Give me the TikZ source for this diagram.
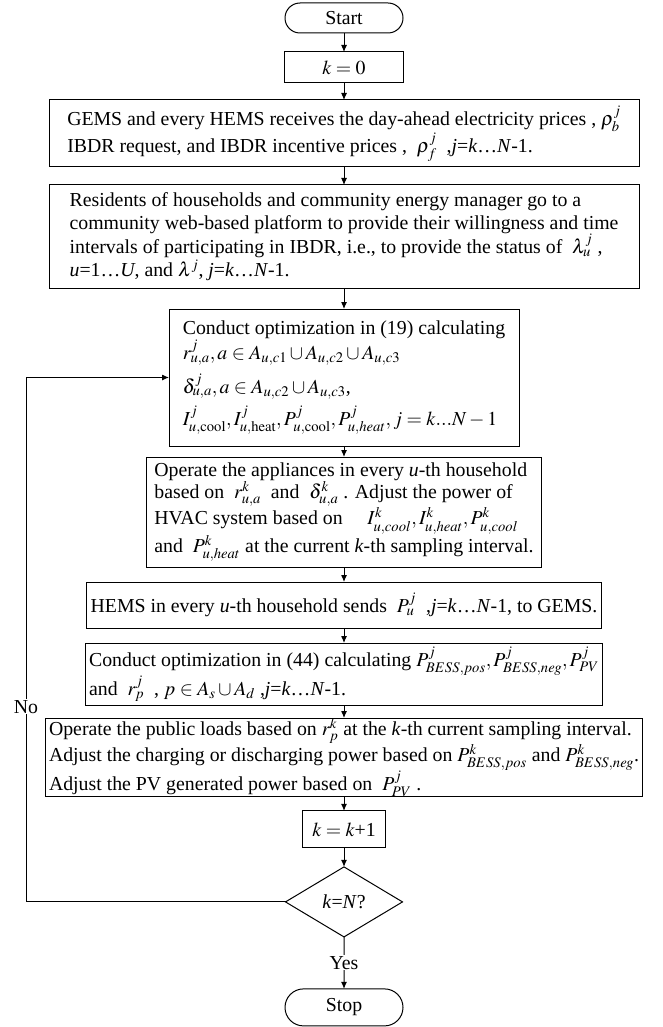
\documentclass[tikz,border=0pt]{standalone}
\usepackage{mathptmx}
\usepackage[no-math]{fontspec}
\setmainfont{Liberation Serif}
\usetikzlibrary{positioning,shapes.geometric,shapes.misc,arrows.meta}
\tikzset{box node/.style={rectangle,draw,line width=1pt,inner xsep=4pt,inner ysep=0pt,outer sep=0pt,align=left},
         end node/.style={rounded rectangle,draw,line width=1pt,minimum width=118pt,inner sep=0pt,outer sep=0pt},
         test node/.style={diamond,draw,line width=1pt,minimum width=117pt,minimum height=70pt,inner sep=0pt,outer sep=0pt},
         flow/.style={line width=1pt,-{Latex[length=7pt,width=6pt]}},
            }

\begin{document}
\begin{tikzpicture}[x=1pt,y=1pt,font=\fontsize{19.8}{22.5}\selectfont]
    \useasboundingbox (0,0) rectangle (663,-1027);
    \node[end node,minimum height=30pt] (1) at (344,-18) {Start};
    \node[box node,minimum width=119pt,minimum height=31pt] (2) [below=19pt of 1] {$k=0$};
    \node[box node,minimum width=590pt,minimum height=67pt] (3) [below=17pt of 2]
        {GEMS and every HEMS receives the day-ahead electricity prices , $\rho^j_b$\\
         IBDR request, and IBDR incentive prices , ~$\rho^j_f$ ~,\textit{j}=\textit{k}\ldots\textit{N}-1.};
    \node[box node,minimum width=590pt,minimum height=103pt] (4) [below=18pt of 3]
        {Residents of households and community energy manager go to a\\
         community web-based platform to provide their willingness and time\\
         intervals of participating in IBDR, i.e., to provide the status of ~$\lambda^j_u$ ,\\
         \textit{u}=1\ldots\textit{U}, and $\lambda^j$, \textit{j}=\textit{k}\ldots\textit{N}-1.};
    \node[box node,minimum width=350pt,minimum height=137pt] (5) [below=21pt of 4]
        {Conduct optimization in (19) calculating\\[1pt]
         $r^j_{u,a}, a\in A_{u,c1}\cup A_{u,c2}\cup A_{u,c3}$\\[7pt]
         $\delta^j_{u,a}, a\in A_{u,c2}\cup A_{u,c3}$,\\[6pt]
         $I^j_{u,\mathrm{cool}}, I^j_{u,\mathrm{heat}}, P^j_{u,\mathrm{cool}}, P^j_{u,heat}, j=k...N-1$};
    \node[box node,minimum width=395pt,minimum height=110pt] (6) [below=11pt of 5]
        {Operate the appliances in every \textit{u}-th household\\
         based on ~$r^k_{u,a}$ ~and ~$\delta^k_{u,a}$ . Adjust the power of\\
         HVAC system based on \quad $I^k_{u,cool}, I^k_{u,heat}, P^k_{u,cool}$\\
         and ~$P^k_{u,heat}$ at the current \textit{k}-th sampling interval.};
    \node[box node,minimum width=510pt,minimum height=46pt] (7) [below=15pt of 6]
        {HEMS in every \textit{u}-th household sends ~$P^j_u$ ~,\textit{j}=\textit{k}\ldots\textit{N}-1, to GEMS.};
    \node[box node,minimum width=510pt,minimum height=62pt] (8) [below=15pt of 7]
        {Conduct optimization in (44) calculating $P^j_{BESS,pos}, P^j_{BESS,neg}, P^j_{PV}$\\
         and ~$r^j_p$ ~, $p\in A_s\cup A_d$ ,\textit{j}=\textit{k}\ldots\textit{N}-1.};
    \node[box node,minimum width=590pt,minimum height=77pt] (9) [below=13pt of 8]
        {Operate the public loads based on $r^k_p$ at the \textit{k}-th current sampling interval.\\
         Adjust the charging or discharging power based on $P^k_{BESS,pos}$ and $P^k_{BESS,neg}$.\\
         Adjust the PV generated power based on ~$P^j_{PV}$ .};
    \node[box node,minimum width=83pt,minimum height=37pt] (10) [below=14pt of 9] {$k=k$+1};
    \node[test node] (11) [below=19pt of 10] {\textit{k}=\textit{N}?};
    \node[end node,minimum height=37pt] (12) [below=52pt of 11] {Stop};

    \coordinate (left) at (26,0);
    \coordinate (back) at (11.west -| left);

    \path[draw,flow]
    (1) edge (2)
    (2) edge (3)
    (3) edge (4)
    (4) edge (5)
    (5) edge (6)
    (6) edge (7)
    (7) edge (8)
    (8) edge (9)
    (9) edge (10)
    (10) edge (11)
    (11) edge node[fill=white,inner sep=1pt] {Yes} (12)
    ;
    \draw[flow] (11.west) -- (back) |- node[pos=0.186,fill=white,inner sep=1pt] {No} (5.west);
\end{tikzpicture}
\end{document}
